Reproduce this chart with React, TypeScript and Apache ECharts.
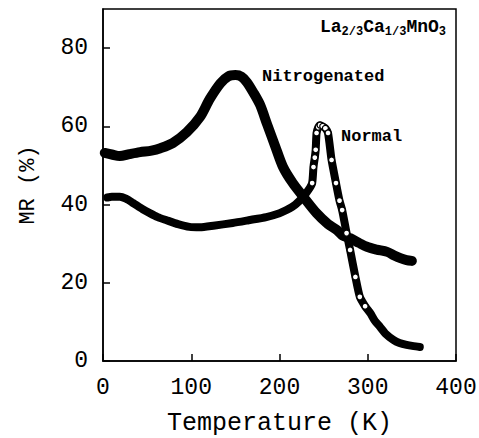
import React, { useEffect, useRef } from "react";
import * as echarts from "echarts";

const xTicks = [0, 100, 200, 300, 400];
const yTicks = [0, 20, 40, 60, 80];

const nitroT = [2, 10, 19, 30, 42, 55, 65, 79, 95, 110, 121, 133, 142, 150, 157, 163, 170, 178, 186, 195, 204, 215, 227, 242, 255, 265, 272, 280, 290, 299, 310, 322, 330, 337, 344, 350];
const nitroMR = [53.2, 52.8, 52.4, 52.9, 53.4, 53.8, 54.4, 55.7, 58.5, 62.4, 67.0, 71.0, 72.8, 73.1, 72.7, 71.3, 68.8, 65.5, 60.5, 55.0, 49.6, 45.5, 42.0, 37.8, 35.0, 33.5, 32.0, 31.4, 30.2, 29.2, 28.5, 27.9, 27.0, 26.3, 25.8, 25.6];

const normalT = [5, 10, 19, 26, 34, 45, 53, 62, 72, 85, 98, 110, 125, 147, 165, 185, 200, 208, 218, 227, 233, 237, 238.5, 240, 241, 242, 244, 246, 249, 252, 255, 259, 264, 268, 271, 276, 280, 286, 291, 297, 303, 308, 314, 320, 329, 336, 344, 352, 359];
const normalMR = [41.8, 42.0, 42.0, 41.5, 40.4, 38.8, 37.8, 36.8, 36.0, 35.0, 34.3, 34.2, 34.6, 35.3, 36.0, 36.8, 37.8, 38.6, 40.0, 42.0, 43.8, 45.5, 49.6, 52.0, 54.0, 58.3, 59.8, 60.3, 60.0, 59.5, 58.3, 51.4, 45.5, 41.0, 38.6, 32.7, 28.4, 21.5, 16.4, 14.0, 12.2, 10.3, 8.7, 7.0, 5.4, 4.6, 4.1, 3.8, 3.6];

const FONT = "'Courier New', 'Liberation Mono', monospace";

export default function App() {
  const ref = useRef<HTMLDivElement>(null);
  useEffect(() => {
    if (!ref.current) return;
    document.body.style.margin = "0";
    const chart = echarts.init(ref.current, null, { renderer: "svg" });
    const nitro = nitroT.map((t, i) => [t, nitroMR[i]]);
    const normal = normalT.map((t, i) => {
      const steep = t >= 236 && t <= 300;
      return steep ? { value: [t, normalMR[i]] } : { value: [t, normalMR[i]], symbol: "none" };
    });
    chart.setOption({
      animation: false,
      backgroundColor: "#fff",
      grid: {
        left: 103, right: 23, top: 9, bottom: 77,
        show: true, borderColor: "#000", borderWidth: 1.5, backgroundColor: "transparent",
        containLabel: false, outerBoundsMode: "none",
      },
      xAxis: {
        type: "value", min: xTicks[0], max: xTicks[xTicks.length - 1], interval: 100,
        name: "Temperature (K)", nameLocation: "middle", nameGap: 50,
        nameTextStyle: { fontFamily: FONT, fontSize: 25, color: "#000" },
        axisLine: { show: true, lineStyle: { color: "#000", width: 1.5 } },
        axisTick: { show: true, inside: true, length: 7, lineStyle: { color: "#000", width: 1.5 } },
        axisLabel: { fontFamily: FONT, fontSize: 23, color: "#000", margin: 15 },
        splitLine: { show: false },
      },
      yAxis: {
        type: "value", min: yTicks[0], max: 90, interval: 20,
        name: "MR (%)", nameLocation: "middle", nameGap: 64, nameRotate: 90,
        nameTextStyle: { fontFamily: FONT, fontSize: 22, color: "#000" },
        axisLine: { show: true, lineStyle: { color: "#000", width: 1.5 } },
        axisTick: { show: true, inside: true, length: 7, lineStyle: { color: "#000", width: 1.5 } },
        axisLabel: { fontFamily: FONT, fontSize: 23, color: "#000", margin: 15, showMaxLabel: false,
          formatter: (v: number) => (yTicks.includes(v) ? String(v) : "") },
        splitLine: { show: false },
      },
      series: [
        {
          name: "Nitrogenated", type: "line", data: nitro, smooth: 0.3,
          showSymbol: false, lineStyle: { color: "#000", width: 10, cap: "round", join: "round" },
          z: 2,
        },
        {
          name: "Normal", type: "line", data: normal, smooth: 0.2,
          symbol: "circle", symbolSize: 6, showSymbol: true,
          itemStyle: { color: "#fff", borderColor: "#000", borderWidth: 1.3 },
          lineStyle: { color: "#000", width: 8, cap: "round", join: "round" },
          z: 3,
        },
      ],
      graphic: [
        {
          type: "text", right: 33, top: 18,
          style: {
            text: "La{s|2/3}Ca{s|1/3}MnO{s|3}",
            font: `bold 18px ${FONT}`, fill: "#000",
            rich: { s: { fontFamily: FONT, fontSize: 12, fontWeight: "bold", verticalAlign: "bottom", padding: [10, 0, 0, 0] } },
          },
        },
        { type: "text", left: 262, top: 68, style: { text: "Nitrogenated", font: `bold 17px ${FONT}`, fill: "#000" } },
        { type: "text", left: 341, top: 128, style: { text: "Normal", font: `bold 17px ${FONT}`, fill: "#000" } },
      ],
    });
    return () => chart.dispose();
  }, []);
  return <div ref={ref} style={{ width: 479, height: 438 }} />;
}
